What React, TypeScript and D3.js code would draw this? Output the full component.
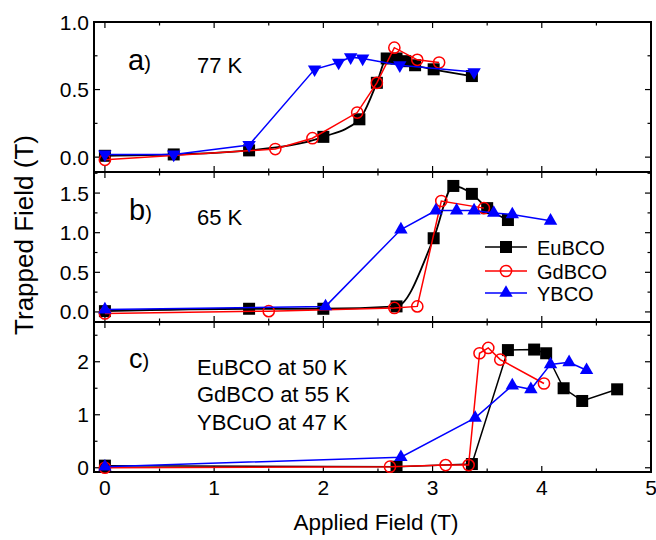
import React from 'react';
import * as d3 from 'd3';

const W = 656;
const H = 540;

// ---------- Data ----------
// Panel a) 77 K
const euA_x = [0, 0.63, 1.32, 2.0, 2.33, 2.49, 2.58, 2.67, 2.75, 2.84, 3.01, 3.36];
const euA_y = [0.01, 0.02, 0.05, 0.15, 0.28, 0.55, 0.73, 0.73, 0.71, 0.68, 0.65, 0.6];
const gdA_x = [0, 1.56, 1.9, 2.31, 2.49, 2.65, 2.86, 3.06];
const gdA_y = [-0.02, 0.06, 0.14, 0.33, 0.55, 0.81, 0.72, 0.7];
const ybA_x = [0, 0.63, 1.32, 1.92, 2.14, 2.25, 2.36, 2.7, 3.38];
const ybA_y = [0.02, 0.02, 0.09, 0.65, 0.7, 0.74, 0.73, 0.68, 0.63];

// Panel b) 65 K
const euB_x = [0, 1.32, 2.0, 2.67, 3.01, 3.19, 3.36, 3.5, 3.69];
const euB_y = [0.01, 0.04, 0.04, 0.07, 0.93, 1.59, 1.49, 1.31, 1.16];
const gdB_x = [0, 1.5, 2.65, 2.86, 3.08, 3.47];
const gdB_y = [-0.02, 0.01, 0.05, 0.07, 1.4, 1.31];
const ybB_x = [0, 2.02, 2.71, 3.03, 3.22, 3.38, 3.56, 3.73, 4.08];
const ybB_y = [0.03, 0.07, 1.04, 1.28, 1.28, 1.28, 1.25, 1.23, 1.15];

// Panel c) EuBCO 50 K, GdBCO 55 K, YBCuO 47 K
const euC_x = [0, 2.67, 3.36, 3.69, 3.93, 4.04, 4.2, 4.37, 4.69];
const euC_y = [0.04, 0.02, 0.07, 2.22, 2.23, 2.16, 1.5, 1.26, 1.48];
const gdC_x = [0, 2.61, 3.12, 3.33, 3.43, 3.51, 3.62, 4.02];
const gdC_y = [0.0, 0.02, 0.05, 0.05, 2.16, 2.26, 2.04, 1.59];
const ybC_x = [0, 2.71, 3.39, 3.73, 3.9, 4.08, 4.25, 4.41];
const ybC_y = [0.02, 0.2, 0.94, 1.55, 1.48, 1.95, 1.99, 1.84];

const X_TICKS = [0, 1, 2, 3, 4, 5];
const X_TICK_LABELS = ['0', '1', '2', '3', '4', '5'];
const A_TICKS = [0, 0.5, 1.0];
const A_TICK_LABELS = ['0.0', '0.5', '1.0'];
const B_TICKS = [0, 0.5, 1.0, 1.5];
const B_TICK_LABELS = ['0.0', '0.5', '1.0', '1.5'];
const C_TICKS = [0, 1, 2];
const C_TICK_LABELS = ['0', '1', '2'];

const SERIES_NAMES = ['EuBCO', 'GdBCO', 'YBCO'];
const COLORS = ['#000000', '#ff0000', '#0000ff'];

// ---------- Layout ----------
const LEFT = 94;
const RIGHT = 651;
const FONT = 'Liberation Sans, Arial, sans-serif';

const x = d3.scaleLinear().domain([-0.1, 5]).range([LEFT, RIGHT]);

type Pt = [number, number];
const zip = (xs: number[], ys: number[]): Pt[] => xs.map((v, i) => [v, ys[i]]);

interface PanelDef {
  top: number;
  bottom: number;
  domain: [number, number];
  ticks: number[];
  tickLabels: string[];
  minorStep: number;
  eu: Pt[];
  gd: Pt[];
  yb: Pt[];
  ybDown: boolean;
  euCurve: boolean;
}

const panels: PanelDef[] = [
  {
    top: 22, bottom: 172, domain: [-0.11, 1.0], ticks: A_TICKS, tickLabels: A_TICK_LABELS, minorStep: 0.25,
    eu: zip(euA_x, euA_y), gd: zip(gdA_x, gdA_y), yb: zip(ybA_x, ybA_y), ybDown: true, euCurve: true,
  },
  {
    top: 172, bottom: 322, domain: [-0.127, 1.766], ticks: B_TICKS, tickLabels: B_TICK_LABELS, minorStep: 0.25,
    eu: zip(euB_x, euB_y), gd: zip(gdB_x, gdB_y), yb: zip(ybB_x, ybB_y), ybDown: false, euCurve: true,
  },
  {
    top: 322, bottom: 472, domain: [-0.08, 2.75], ticks: C_TICKS, tickLabels: C_TICK_LABELS, minorStep: 0.5,
    eu: zip(euC_x, euC_y), gd: zip(gdC_x, gdC_y), yb: zip(ybC_x, ybC_y), ybDown: false, euCurve: false,
  },
];

const triPath = d3.symbol().type(d3.symbolTriangle).size(78)() as string;

function Square({ cx, cy }: { cx: number; cy: number }) {
  return <rect x={cx - 6} y={cy - 6} width={12} height={12} fill="#000" />;
}
function Circ({ cx, cy }: { cx: number; cy: number }) {
  return <circle cx={cx} cy={cy} r={5.6} fill="none" stroke="#ff0000" strokeWidth={1.5} />;
}
function Tri({ cx, cy, down }: { cx: number; cy: number; down: boolean }) {
  return <path d={triPath} transform={`translate(${cx},${cy}) rotate(${down ? 180 : 0})`} fill="#0000ff" />;
}

function Panel({ p, showXLabels }: { p: PanelDef; showXLabels: boolean }) {
  const y = d3.scaleLinear().domain(p.domain).range([p.bottom, p.top]);
  const lineLin = d3.line<Pt>().x((d) => x(d[0])).y((d) => y(d[1]));
  const lineCurve = d3.line<Pt>().x((d) => x(d[0])).y((d) => y(d[1])).curve(d3.curveMonotoneX);

  const minorY: number[] = [];
  for (let v = Math.ceil(p.domain[0] / p.minorStep) * p.minorStep; v <= p.domain[1] + 1e-9; v += p.minorStep) {
    if (!p.ticks.some((t) => Math.abs(t - v) < 1e-6)) minorY.push(v);
  }
  const xAll: number[] = [];
  for (let v = 0; v <= 5 + 1e-9; v += 0.5) xAll.push(v);

  const MAJ = 6;
  const MIN = 3.5;

  return (
    <g>
      <rect x={LEFT} y={p.top} width={RIGHT - LEFT} height={p.bottom - p.top} fill="none" stroke="#000" strokeWidth={2} />
      {/* x ticks top & bottom */}
      {xAll.map((v, i) => {
        const len = Math.abs(v - Math.round(v)) < 1e-6 ? MAJ : MIN;
        const px = x(v);
        return (
          <g key={'xt' + i}>
            <line x1={px} x2={px} y1={p.bottom} y2={p.bottom - len} stroke="#000" strokeWidth={1.2} />
            <line x1={px} x2={px} y1={p.top} y2={p.top + len} stroke="#000" strokeWidth={1.2} />
          </g>
        );
      })}
      {/* y ticks left & right */}
      {p.ticks.map((v, i) => (
        <g key={'ym' + i}>
          <line x1={LEFT} x2={LEFT + MAJ} y1={y(v)} y2={y(v)} stroke="#000" strokeWidth={1.2} />
          <line x1={RIGHT} x2={RIGHT - MAJ} y1={y(v)} y2={y(v)} stroke="#000" strokeWidth={1.2} />
          <text x={89} y={y(v)} dy="0.36em" textAnchor="end" fontSize={21} fontFamily={FONT} fill="#000">
            {p.tickLabels[i]}
          </text>
        </g>
      ))}
      {minorY.map((v, i) => (
        <g key={'yn' + i}>
          <line x1={LEFT} x2={LEFT + MIN} y1={y(v)} y2={y(v)} stroke="#000" strokeWidth={1.2} />
          <line x1={RIGHT} x2={RIGHT - MIN} y1={y(v)} y2={y(v)} stroke="#000" strokeWidth={1.2} />
        </g>
      ))}
      {showXLabels &&
        X_TICKS.map((v, i) => (
          <text key={'xl' + i} x={x(v)} y={495} textAnchor="middle" fontSize={21} fontFamily={FONT} fill="#000">
            {X_TICK_LABELS[i]}
          </text>
        ))}
      {/* series */}
      <path d={(p.euCurve ? lineCurve : lineLin)(p.eu) as string} fill="none" stroke={COLORS[0]} strokeWidth={p.euCurve ? 1.8 : 1.5} />
      {p.eu.map((d, i) => (
        <Square key={'e' + i} cx={x(d[0])} cy={y(d[1])} />
      ))}
      <path d={lineLin(p.gd) as string} fill="none" stroke={COLORS[1]} strokeWidth={1.5} />
      {p.gd.map((d, i) => (
        <Circ key={'g' + i} cx={x(d[0])} cy={y(d[1])} />
      ))}
      <path d={lineLin(p.yb) as string} fill="none" stroke={COLORS[2]} strokeWidth={1.5} />
      {p.yb.map((d, i) => (
        <Tri key={'y' + i} cx={x(d[0])} cy={y(d[1])} down={p.ybDown} />
      ))}
    </g>
  );
}

export default function App() {
  const legendY = [247, 271, 293];
  return (
    <svg width={W} height={H} viewBox={`0 0 ${W} ${H}`} style={{ position: 'absolute', left: 0, top: 0, background: '#fff' }}>
      <rect x={0} y={0} width={W} height={H} fill="#fff" />
      {panels.map((p, i) => (
        <Panel key={i} p={p} showXLabels={i === 2} />
      ))}

      {/* panel labels */}
      <text x={128} y={70} fontFamily={FONT} fill="#000">
        <tspan fontSize={29}>a</tspan>
        <tspan fontSize={20}>)</tspan>
      </text>
      <text x={197} y={73} fontFamily={FONT} fontSize={22} fill="#000">77 K</text>

      <text x={129} y={220} fontFamily={FONT} fill="#000">
        <tspan fontSize={29}>b</tspan>
        <tspan fontSize={20}>)</tspan>
      </text>
      <text x={197} y={225} fontFamily={FONT} fontSize={22} fill="#000">65 K</text>

      <text x={129} y={368} fontFamily={FONT} fill="#000">
        <tspan fontSize={27}>c</tspan>
        <tspan fontSize={20}>)</tspan>
      </text>
      <text x={197} y={375} fontFamily={FONT} fontSize={22} fill="#000">EuBCO at 50 K</text>
      <text x={197} y={402} fontFamily={FONT} fontSize={22} fill="#000">GdBCO at 55 K</text>
      <text x={197} y={430} fontFamily={FONT} fontSize={22} fill="#000">YBCuO at 47 K</text>

      {/* legend */}
      {SERIES_NAMES.map((name, i) => (
        <g key={'lg' + i}>
          <line x1={485} x2={527} y1={legendY[i]} y2={legendY[i]} stroke={COLORS[i]} strokeWidth={1.5} />
          {i === 0 && <Square cx={506} cy={legendY[i]} />}
          {i === 1 && <Circ cx={506} cy={legendY[i]} />}
          {i === 2 && <Tri cx={506} cy={legendY[i]} down={false} />}
          <text x={537} y={legendY[i] + 8} fontFamily={FONT} fontSize={20} fill="#000">
            {name}
          </text>
        </g>
      ))}

      {/* axis titles */}
      <text x={376} y={530} textAnchor="middle" fontFamily={FONT} fontSize={22.5} fill="#000">
        Applied Field (T)
      </text>
      <text
        transform="translate(33,235) rotate(-90)"
        textAnchor="middle"
        fontFamily={FONT}
        fontSize={26}
        fill="#000"
      >
        Trapped Field (T)
      </text>
    </svg>
  );
}
